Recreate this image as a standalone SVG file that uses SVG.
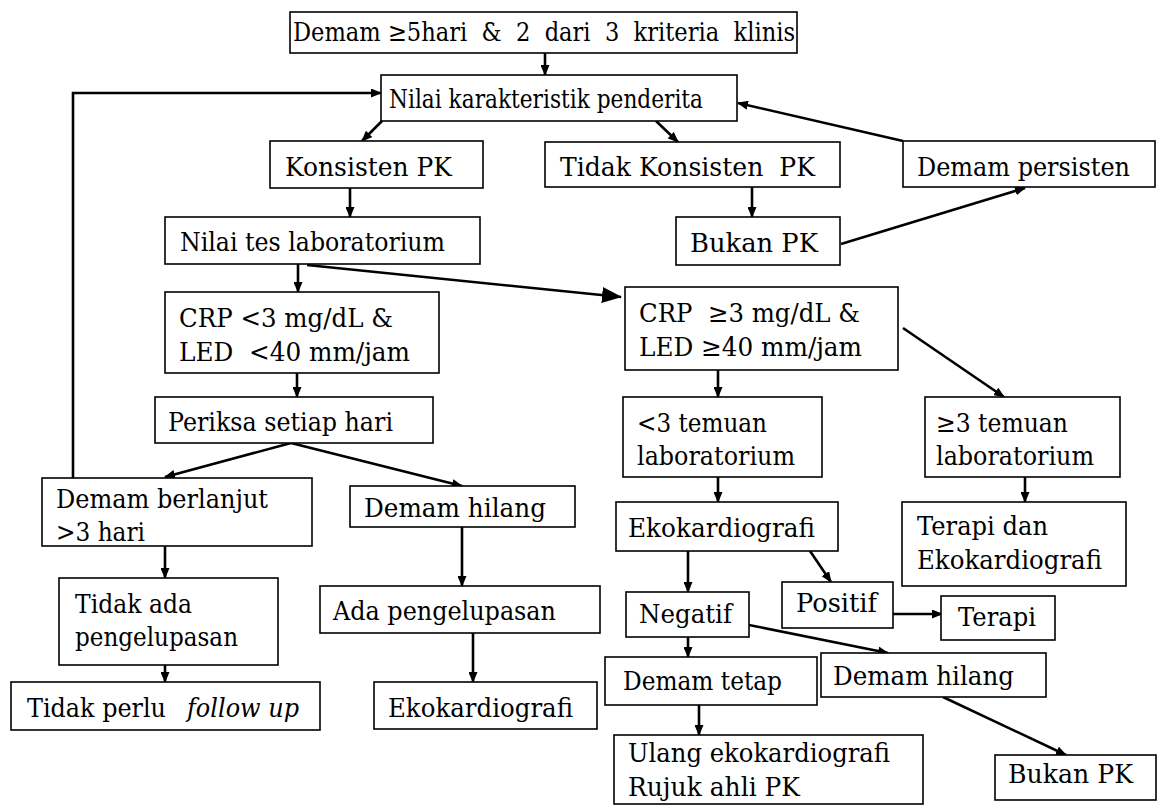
<svg xmlns="http://www.w3.org/2000/svg" width="1158" height="805" viewBox="0 0 1158 805">
<style>
.b{fill:#fff;stroke:#000;stroke-width:1.6}
.t{font-size:26px;fill:#000}
.c{fill:none;stroke:#000;stroke-width:2.6}
</style>
<defs>
<marker id="a" markerUnits="userSpaceOnUse" markerWidth="11" markerHeight="9" refX="10" refY="4.5" orient="auto"><path d="M0,0 L11,4.5 L0,9 z" fill="#000"/></marker>
<marker id="big" markerUnits="userSpaceOnUse" markerWidth="20" markerHeight="16" refX="19" refY="8" orient="auto"><path d="M0,0 L20,8 L0,16 z" fill="#000"/></marker>
</defs>
<rect width="1158" height="805" fill="#fff"/>
<g id="connectors">
<line class="c" x1="545" y1="53" x2="545" y2="75" marker-end="url(#a)"/>
<polyline class="c" points="73,478 73,93 381,93" marker-end="url(#a)"/>
<line class="c" x1="382" y1="121" x2="362" y2="141" marker-end="url(#a)"/>
<line class="c" x1="656" y1="121" x2="678" y2="142" marker-end="url(#a)"/>
<line class="c" x1="903" y1="141" x2="738" y2="103" marker-end="url(#a)"/>
<line class="c" x1="350" y1="188" x2="350" y2="217" marker-end="url(#a)"/>
<line class="c" x1="752" y1="187" x2="752" y2="217" marker-end="url(#a)"/>
<line class="c" x1="841" y1="244" x2="1025" y2="188" marker-end="url(#a)"/>
<line class="c" x1="298" y1="264" x2="298" y2="292" marker-end="url(#a)"/>
<line class="c" x1="307" y1="265" x2="621" y2="297" marker-end="url(#big)"/>
<line class="c" x1="297" y1="373" x2="297" y2="397" marker-end="url(#a)"/>
<line class="c" x1="291" y1="443" x2="165" y2="477" marker-end="url(#a)"/>
<line class="c" x1="291" y1="443" x2="462" y2="486" marker-end="url(#a)"/>
<line class="c" x1="165" y1="546" x2="165" y2="578" marker-end="url(#a)"/>
<line class="c" x1="462" y1="527" x2="462" y2="586" marker-end="url(#a)"/>
<line class="c" x1="165" y1="665" x2="165" y2="682" marker-end="url(#a)"/>
<line class="c" x1="473" y1="633" x2="473" y2="682" marker-end="url(#a)"/>
<line class="c" x1="718" y1="370" x2="718" y2="397" marker-end="url(#a)"/>
<line class="c" x1="903" y1="328" x2="1004" y2="397" marker-end="url(#a)"/>
<line class="c" x1="718" y1="477" x2="718" y2="502" marker-end="url(#a)"/>
<line class="c" x1="1025" y1="477" x2="1025" y2="502" marker-end="url(#a)"/>
<line class="c" x1="688" y1="551" x2="688" y2="592" marker-end="url(#a)"/>
<line class="c" x1="810" y1="551" x2="831" y2="582" marker-end="url(#a)"/>
<line class="c" x1="893" y1="614" x2="942" y2="614" marker-end="url(#a)"/>
<line class="c" x1="688" y1="637" x2="688" y2="657" marker-end="url(#a)"/>
<line class="c" x1="749" y1="625" x2="888" y2="653" marker-end="url(#a)"/>
<line class="c" x1="699" y1="705" x2="699" y2="735" marker-end="url(#a)"/>
<line class="c" x1="943" y1="697" x2="1066" y2="755" marker-end="url(#a)"/>
</g>
<g font-family="DejaVu Serif, Liberation Serif, serif">
<g id="n1"><rect class="b" x="290" y="12" width="507" height="41"/><text class="t" x="293" y="41" font-size="24" xml:space="preserve" textLength="502" lengthAdjust="spacingAndGlyphs">Demam ≥5hari  &amp;  2  dari  3  kriteria  klinis</text></g>
<g id="n2"><rect class="b" x="381" y="75" width="356" height="46"/><text class="t" x="389" y="108" textLength="314" lengthAdjust="spacingAndGlyphs">Nilai karakteristik penderita</text></g>
<g id="n3"><rect class="b" x="270" y="141" width="213" height="47"/><text class="t" x="285" y="176" textLength="167" lengthAdjust="spacingAndGlyphs">Konsisten PK</text></g>
<g id="n4"><rect class="b" x="545" y="142" width="295" height="45"/><text class="t" x="560" y="176" xml:space="preserve" textLength="255" lengthAdjust="spacingAndGlyphs">Tidak Konsisten  PK</text></g>
<g id="n5"><rect class="b" x="903" y="141" width="252" height="46"/><text class="t" x="917" y="176" font-size="24" textLength="213" lengthAdjust="spacingAndGlyphs">Demam persisten</text></g>
<g id="n6"><rect class="b" x="165" y="217" width="315" height="47"/><text class="t" x="180" y="251" textLength="265" lengthAdjust="spacingAndGlyphs">Nilai tes laboratorium</text></g>
<g id="n7"><rect class="b" x="676" y="217" width="164" height="48"/><text class="t" x="690" y="252" textLength="128" lengthAdjust="spacingAndGlyphs">Bukan PK</text></g>
<g id="n8"><rect class="b" x="165" y="292" width="274" height="81"/><text class="t" x="179" y="327" textLength="214" lengthAdjust="spacingAndGlyphs">CRP &lt;3 mg/dL &amp;</text><text class="t" x="179" y="361" xml:space="preserve" textLength="231" lengthAdjust="spacingAndGlyphs">LED  &lt;40 mm/jam</text></g>
<g id="n9"><rect class="b" x="625" y="287" width="273" height="83"/><text class="t" x="639" y="322" xml:space="preserve" textLength="221" lengthAdjust="spacingAndGlyphs">CRP  ≥3 mg/dL &amp;</text><text class="t" x="639" y="356" textLength="223" lengthAdjust="spacingAndGlyphs">LED ≥40 mm/jam</text></g>
<g id="n10"><rect class="b" x="155" y="397" width="278" height="46"/><text class="t" x="168" y="431" textLength="225" lengthAdjust="spacingAndGlyphs">Periksa setiap hari</text></g>
<g id="n11"><rect class="b" x="623" y="397" width="199" height="80"/><text class="t" x="637" y="432" textLength="130" lengthAdjust="spacingAndGlyphs">&lt;3 temuan</text><text class="t" x="637" y="465" textLength="158" lengthAdjust="spacingAndGlyphs">laboratorium</text></g>
<g id="n12"><rect class="b" x="925" y="397" width="195" height="80"/><text class="t" x="936" y="432" textLength="132" lengthAdjust="spacingAndGlyphs">≥3 temuan</text><text class="t" x="936" y="465" textLength="158" lengthAdjust="spacingAndGlyphs">laboratorium</text></g>
<g id="n13"><rect class="b" x="42" y="478" width="270" height="68"/><text class="t" x="56" y="508" textLength="212" lengthAdjust="spacingAndGlyphs">Demam berlanjut</text><text class="t" x="56" y="541" textLength="89" lengthAdjust="spacingAndGlyphs">&gt;3 hari</text></g>
<g id="n14"><rect class="b" x="350" y="486" width="225" height="41"/><text class="t" x="364" y="517" textLength="182" lengthAdjust="spacingAndGlyphs">Demam hilang</text></g>
<g id="n15"><rect class="b" x="616" y="502" width="222" height="49"/><text class="t" x="628" y="537" textLength="187" lengthAdjust="spacingAndGlyphs">Ekokardiografi</text></g>
<g id="n16"><rect class="b" x="902" y="502" width="224" height="84"/><text class="t" x="917" y="535" textLength="131" lengthAdjust="spacingAndGlyphs">Terapi dan</text><text class="t" x="917" y="569" textLength="185" lengthAdjust="spacingAndGlyphs">Ekokardiografi</text></g>
<g id="n17"><rect class="b" x="59" y="578" width="219" height="87"/><text class="t" x="75" y="613" textLength="117" lengthAdjust="spacingAndGlyphs">Tidak ada</text><text class="t" x="75" y="646" textLength="163" lengthAdjust="spacingAndGlyphs">pengelupasan</text></g>
<g id="n18"><rect class="b" x="320" y="586" width="280" height="47"/><text class="t" x="333" y="620" textLength="223" lengthAdjust="spacingAndGlyphs">Ada pengelupasan</text></g>
<g id="n19"><rect class="b" x="782" y="582" width="111" height="46"/><text class="t" x="796" y="612" textLength="81" lengthAdjust="spacingAndGlyphs">Positif</text></g>
<g id="n20"><rect class="b" x="941" y="596" width="114" height="44"/><text class="t" x="958" y="626" textLength="78" lengthAdjust="spacingAndGlyphs">Terapi</text></g>
<g id="n21"><rect class="b" x="626" y="592" width="123" height="45"/><text class="t" x="639" y="623" textLength="93" lengthAdjust="spacingAndGlyphs">Negatif</text></g>
<g id="n22"><rect class="b" x="605" y="657" width="212" height="48"/><text class="t" x="623" y="690" textLength="159" lengthAdjust="spacingAndGlyphs">Demam tetap</text></g>
<g id="n23"><rect class="b" x="821" y="653" width="225" height="44"/><text class="t" x="833" y="685" textLength="181" lengthAdjust="spacingAndGlyphs">Demam hilang</text></g>
<g id="n24"><rect class="b" x="11" y="682" width="309" height="48"/><text class="t" x="27" y="717" textLength="139" lengthAdjust="spacingAndGlyphs">Tidak perlu</text><text class="t" x="187" y="717" font-style="italic" textLength="112" lengthAdjust="spacingAndGlyphs">follow up</text></g>
<g id="n25"><rect class="b" x="374" y="682" width="223" height="47"/><text class="t" x="388" y="717" textLength="185" lengthAdjust="spacingAndGlyphs">Ekokardiografi</text></g>
<g id="n26"><rect class="b" x="614" y="735" width="309" height="69"/><text class="t" x="628" y="762" textLength="262" lengthAdjust="spacingAndGlyphs">Ulang ekokardiografi</text><text class="t" x="628" y="796" textLength="172" lengthAdjust="spacingAndGlyphs">Rujuk ahli PK</text></g>
<g id="n27"><rect class="b" x="995" y="755" width="161" height="45"/><text class="t" x="1008" y="783" textLength="125" lengthAdjust="spacingAndGlyphs">Bukan PK</text></g>
</g>
</svg>
